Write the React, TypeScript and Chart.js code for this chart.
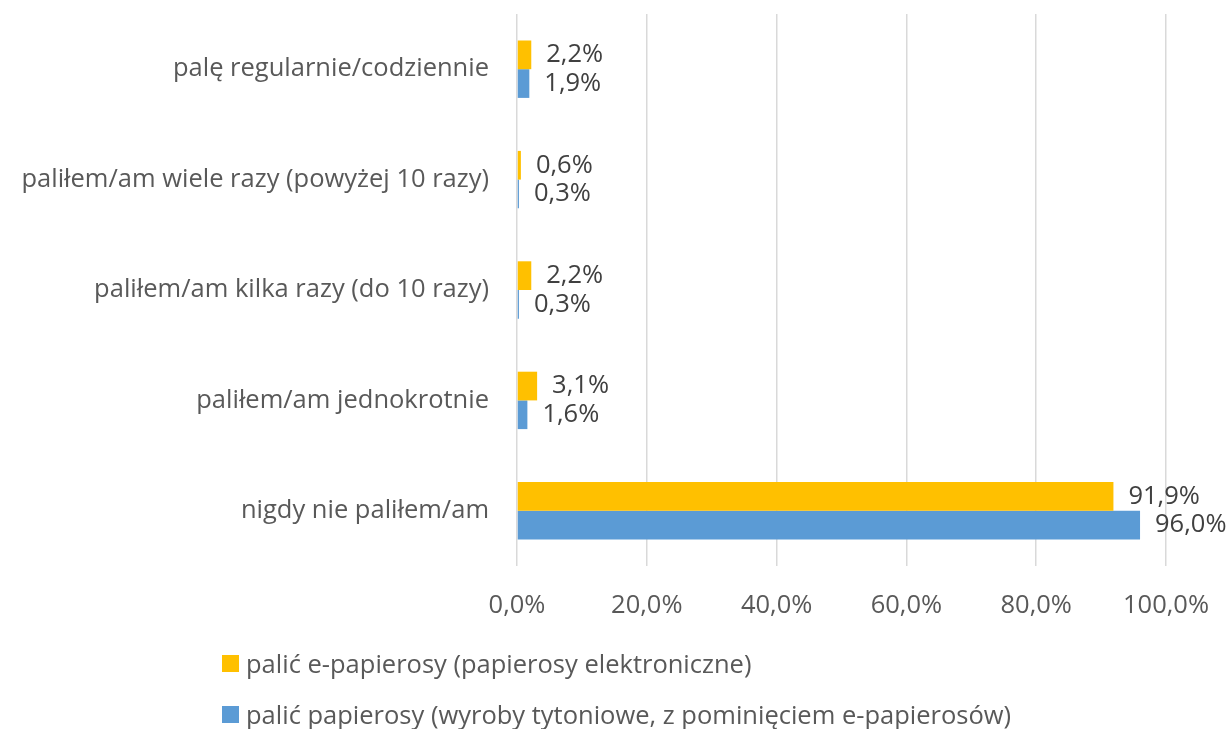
import React, { useEffect, useRef } from "react";
import { Chart, registerables } from "chart.js";

Chart.register(...registerables);

const categories = [
  "palę regularnie/codziennie",
  "paliłem/am wiele razy (powyżej 10 razy)",
  "paliłem/am kilka razy (do 10 razy)",
  "paliłem/am jednokrotnie",
  "nigdy nie paliłem/am",
];
const seriesNames = [
  "palić e-papierosy (papierosy elektroniczne)",
  "palić papierosy (wyroby tytoniowe, z pominięciem e-papierosów)",
];
const ecigValues = [2.2, 0.6, 2.2, 3.1, 91.9];
const cigValues = [1.9, 0.3, 0.3, 1.6, 96.0];
const colors = ["#FFC000", "#5B9BD5"];
const xTicks = [0, 20, 40, 60, 80, 100];

const FONT = "'Open Sans', sans-serif";
const FS = 25.5;
const fmt = (v: number) => v.toFixed(1).replace(".", ",") + "%";

const labelPlugin = {
  id: "valueLabels",
  afterDatasetsDraw(chart: any) {
    const ctx = chart.ctx;
    ctx.save();
    ctx.font = `${FS}px ${FONT}`;
    ctx.fillStyle = "#404040";
    ctx.textBaseline = "middle";
    ctx.textAlign = "left";
    chart.data.datasets.forEach((ds: any, di: number) => {
      const meta = chart.getDatasetMeta(di);
      meta.data.forEach((bar: any, i: number) => {
        const txt = fmt(ds.data[i]);
        const w = ctx.measureText(txt).width;
        let x = bar.x + 15;
        if (x + w > chart.width - 2) x = chart.width - 2 - w;
        ctx.fillText(txt, x, bar.y);
      });
    });
    ctx.restore();
  },
};

export default function App() {
  const ref = useRef<HTMLCanvasElement | null>(null);
  useEffect(() => {
    if (!ref.current) return;
    const chart = new Chart(ref.current, {
      type: "bar",
      data: {
        labels: categories,
        datasets: [
          {
            label: seriesNames[0],
            data: ecigValues,
            backgroundColor: colors[0],
            categoryPercentage: 0.52,
            barPercentage: 1,
          },
          {
            label: seriesNames[1],
            data: cigValues,
            backgroundColor: colors[1],
            categoryPercentage: 0.52,
            barPercentage: 1,
          },
        ],
      },
      options: {
        indexAxis: "y",
        animation: false,
        responsive: false,
        layout: { padding: { left: 0, right: 66, top: 14, bottom: 103 } },
        plugins: { legend: { display: false }, tooltip: { enabled: false } },
        scales: {
          x: {
            min: 0,
            max: 100,
            afterBuildTicks: (scale: any) => {
              scale.ticks = xTicks.map((v) => ({ value: v }));
            },
            afterFit: (scale: any) => {
              scale.height = 60;
              scale.paddingLeft = 0;
              scale.paddingRight = 0;
            },
            grid: { color: "#D9D9D9", lineWidth: 1.5, drawTicks: false },
            border: { display: false },
            ticks: {
              padding: 24,
              color: "#595959",
              font: { family: FONT, size: FS },
              callback: (v: any) => fmt(Number(v)),
            },
          },
          y: {
            afterFit: (scale: any) => {
              scale.width = 517;
              scale.paddingTop = 0;
              scale.paddingBottom = 0;
            },
            grid: { display: false, drawTicks: false },
            border: { display: false },
            ticks: {
              padding: 28,
              color: "#595959",
              font: { family: FONT, size: FS },
            },
          },
        },
      },
      plugins: [labelPlugin],
    });
    return () => chart.destroy();
  }, []);

  const legendItem = (i: number, top: number) => (
    <div
      key={i}
      style={{
        position: "absolute",
        left: 222,
        top,
        height: 36,
        lineHeight: "36px",
        display: "flex",
        alignItems: "center",
        fontFamily: FONT,
        fontSize: FS,
        color: "#595959",
        whiteSpace: "nowrap",
      }}
    >
      <span style={{ width: 17, height: 17, background: colors[i], display: "inline-block", marginRight: 7 }} />
      <span>{seriesNames[i]}</span>
    </div>
  );

  return (
    <div style={{ position: "fixed", left: 0, top: 0, width: 1232, height: 729, background: "#fff", overflow: "hidden" }}>
      <canvas ref={ref} width={1232} height={729} style={{ position: "absolute", left: 0, top: 0 }} />
      {legendItem(0, 645)}
      {legendItem(1, 696)}
    </div>
  );
}
